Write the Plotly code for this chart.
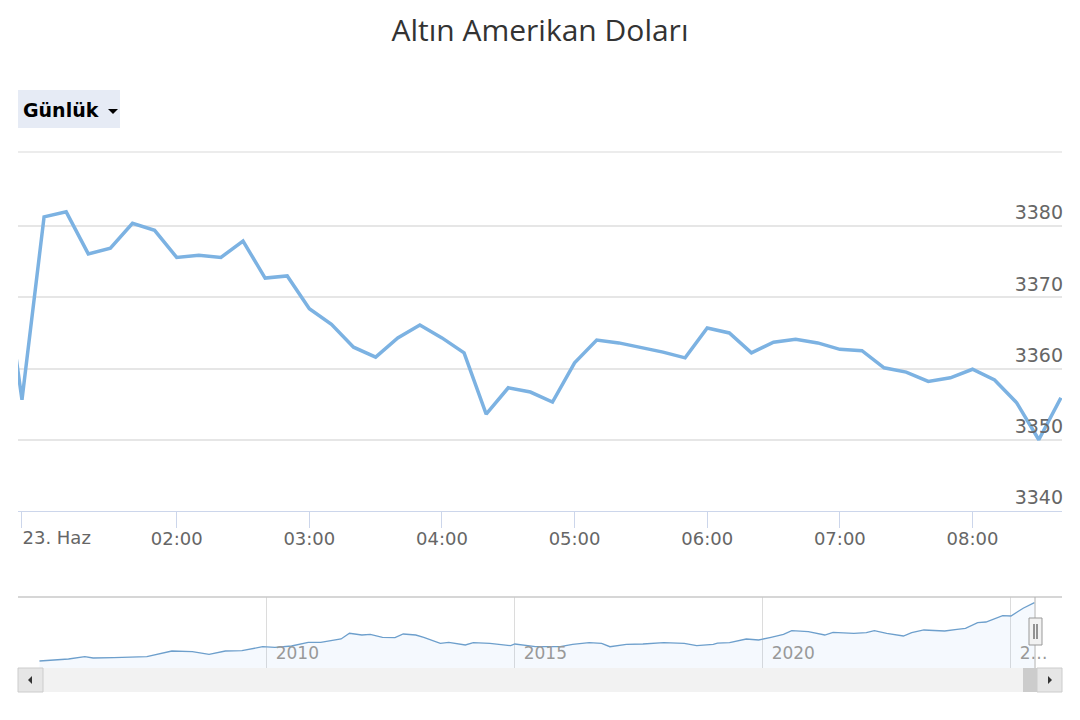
import plotly.graph_objects as go

# ---------------- data ----------------
# intraday gold price (USD), 10-minute points (ordinal index axis)
point_times = ["22.06 23:50", "23.06 00:00"] + [
    f"{h:02d}:{m:02d}" for h in range(1, 9) for m in range(0, 60, 10)
][:47]
gold_values = [3378.0, 3355.6, 3381.3, 3382.0, 3376.1, 3376.9, 3380.4, 3379.4,
               3375.6, 3375.9, 3375.6, 3377.9, 3372.7, 3373.0, 3368.4, 3366.2,
               3363.0, 3361.6, 3364.3, 3366.1, 3364.3, 3362.2, 3353.6, 3357.3,
               3356.7, 3355.3, 3360.8, 3364.0, 3363.6, 3363.0, 3362.3, 3361.5,
               3365.7, 3365.0, 3362.2, 3363.7, 3364.1, 3363.6, 3362.7, 3362.5,
               3360.1, 3359.5, 3358.2, 3358.7, 3359.9, 3358.4, 3355.2, 3350.0,
               3355.9]
point_index = list(range(len(gold_values)))

x_tick_index = [8, 14, 20, 26, 32, 38, 44]
x_tick_text = ["02:00", "03:00", "04:00", "05:00", "06:00", "07:00", "08:00"]
first_tick_index = [1]
first_tick_text = ["23. Haz"]

y_tick_vals = [3340, 3350, 3360, 3370, 3380]
y_tick_text = ["3340", "3350", "3360", "3370", "3380"]

# navigator: long-term history
nav_dates = ["2005-06", "2006-01", "2006-05", "2006-07", "2006-12", "2007-08",
             "2008-02", "2008-03", "2008-07", "2008-11", "2009-03", "2009-07",
             "2009-10", "2009-12", "2010-03", "2010-07", "2010-11", "2011-02",
             "2011-07", "2011-09", "2011-12", "2012-02", "2012-05", "2012-08",
             "2012-10", "2013-01", "2013-03", "2013-07", "2013-09", "2014-01",
             "2014-03", "2014-07", "2014-12", "2015-01", "2015-06", "2015-12",
             "2016-03", "2016-07", "2016-10", "2016-12", "2017-04", "2017-08",
             "2018-01", "2018-06", "2018-09", "2019-01", "2019-02", "2019-05",
             "2019-09", "2019-12", "2020-03", "2020-06", "2020-08", "2020-12",
             "2021-04", "2021-06", "2021-11", "2022-02", "2022-04", "2022-07",
             "2022-11", "2023-01", "2023-04", "2023-09", "2023-12", "2024-02",
             "2024-05", "2024-07", "2024-11", "2025-01", "2025-04", "2025-06-23"]
nav_values = [430, 530, 646, 581, 596, 646,
              931, 931, 896, 766, 931, 946,
              1066, 1146, 1116, 1182, 1367, 1367,
              1532, 1818, 1732, 1767, 1617, 1597,
              1782, 1732, 1617, 1317, 1367, 1232,
              1347, 1317, 1197, 1282, 1146, 1146,
              1267, 1347, 1317, 1146, 1267, 1282,
              1347, 1317, 1197, 1267, 1330, 1347,
              1532, 1482, 1617, 1767, 1948, 1898,
              1732, 1868, 1818, 1848, 1948, 1818,
              1682, 1848, 1983, 1933, 2018, 2068,
              2348, 2383, 2699, 2684, 3070, 3350]
nav_tick_vals = ["2010-01-01", "2015-01-01", "2020-01-01", "2025-01-01"]
nav_tick_text = ["\u00a0\u20092010", "\u00a0\u20092015", "\u00a0\u20092020", "\u00a0\u20092…"]

title_text = "Altın Amerikan Doları"
button_text = "Günlük"

# ---------------- layout helpers (reference pixel -> paper) ----------------
OFF = 8                      # page body margin
W, H = 1080 - OFF, 720 - OFF
L, R = 18, 1062              # plot edges in window pixels


def px(xp):
    return (xp - L) / (R - L)


def py(yp):
    return (H - (yp - OFF)) / H


LINE_COLOR = "#7cb2e2"
GRID = "#e6e6e6"
AXIS = "#ccd6eb"
FONT = "DejaVu Sans"

fig = go.Figure()

fig.add_trace(go.Scatter(
    x=point_index, y=gold_values, mode="lines",
    line=dict(color=LINE_COLOR, width=3.5),
    text=point_times, hovertemplate="%{text}<br>%{y:.2f}<extra></extra>",
    xaxis="x", yaxis="y", showlegend=False,
))
# invisible carrier trace for the overlay axis with the first (left-aligned) tick
fig.add_trace(go.Scatter(
    x=point_index, y=gold_values, mode="lines",
    line=dict(color="rgba(0,0,0,0)", width=0), hoverinfo="skip",
    xaxis="x3", yaxis="y", showlegend=False,
))
fig.add_trace(go.Scatter(
    x=nav_dates, y=nav_values, mode="lines",
    line=dict(color="#6d9fcc", width=1.3),
    fill="tozeroy", fillcolor="rgba(124,181,236,0.08)",
    xaxis="x2", yaxis="y2", showlegend=False, hoverinfo="skip",
))

x_range = [0.82, 48.05]

shapes = []
# top border line of main plot
shapes.append(dict(type="line", xref="paper", yref="paper", x0=0, x1=1,
                   y0=py(152), y1=py(152), line=dict(color=GRID, width=1.5)))
# navigator outline top
shapes.append(dict(type="line", xref="paper", yref="paper", x0=0, x1=1,
                   y0=py(597), y1=py(597), line=dict(color="#c8c8c8", width=1.5)))
# scrollbar track
shapes.append(dict(type="rect", xref="paper", yref="paper", x0=0, x1=1,
                   y0=py(692), y1=py(668), fillcolor="#f2f2f2",
                   line=dict(width=0), layer="above"))
# scrollbar thumb
shapes.append(dict(type="rect", xref="paper", yref="paper", x0=px(1023), x1=px(1037),
                   y0=py(692), y1=py(668), fillcolor="#cccccc",
                   line=dict(width=0), layer="above"))
# scrollbar buttons
for x0, x1 in [(18, 43), (1037, 1062)]:
    shapes.append(dict(type="rect", xref="paper", yref="paper", x0=px(x0), x1=px(x1),
                       y0=py(692), y1=py(668), fillcolor="#e6e6e6",
                       line=dict(color="#cccccc", width=1), layer="above"))
# arrows
shapes.append(dict(type="path", xref="paper", yref="paper", layer="above",
                   path=f"M {px(28)} {py(680)} L {px(32)} {py(676)} L {px(32)} {py(684)} Z",
                   fillcolor="#333333", line=dict(width=0)))
shapes.append(dict(type="path", xref="paper", yref="paper", layer="above",
                   path=f"M {px(1052)} {py(680)} L {px(1048)} {py(676)} L {px(1048)} {py(684)} Z",
                   fillcolor="#333333", line=dict(width=0)))
# navigator handle line and handle
shapes.append(dict(type="line", xref="paper", yref="paper", x0=px(1035), x1=px(1035),
                   y0=py(597), y1=py(668), line=dict(color="#b0b0b0", width=1), layer="above"))
shapes.append(dict(type="rect", xref="paper", yref="paper", x0=px(1029), x1=px(1042),
                   y0=py(645), y1=py(618), fillcolor="#f2f2f2",
                   line=dict(color="#999999", width=1), layer="above"))
for xl in (1034, 1037):
    shapes.append(dict(type="line", xref="paper", yref="paper", x0=px(xl), x1=px(xl),
                       y0=py(624), y1=py(639), line=dict(color="#333333", width=1),
                       layer="above"))
# range-selector button
shapes.append(dict(type="rect", xref="paper", yref="paper", x0=px(18), x1=px(120),
                   y0=py(128), y1=py(90), fillcolor="#e6ebf5", line=dict(width=0)))
shapes.append(dict(type="path", xref="paper", yref="paper",
                   path=f"M {px(108)} {py(109)} L {px(118)} {py(109)} L {px(113)} {py(114)} Z",
                   fillcolor="#000000", line=dict(width=0)))

annotations = [
    dict(text=f"<b>{button_text}</b>", xref="paper", yref="paper",
         x=px(21), y=py(110), xanchor="left", yanchor="middle", showarrow=False,
         font=dict(family=FONT, size=19, color="#000000")),
]

fig.update_layout(
    width=W, height=H, autosize=False,
    margin=dict(l=L - OFF, r=W - (R - OFF), t=0, b=0, autoexpand=False),
    paper_bgcolor="white", plot_bgcolor="white",
    title=dict(text=title_text, x=px(540), xref="paper", xanchor="center",
               y=1 - (30 - OFF) / H, yref="container", yanchor="middle",
               font=dict(family="Open Sans", size=30, color="#333333")),
    xaxis=dict(domain=[0, 1], anchor="y", range=x_range, tickmode="array",
               tickvals=x_tick_index, ticktext=x_tick_text, showgrid=False,
               zeroline=False, showline=True, linecolor=AXIS, linewidth=1,
               ticks="outside", ticklen=16, tickcolor=AXIS, tickwidth=1,
               ticklabelstandoff=-5,
               tickfont=dict(family=FONT, size=18, color="#666666")),
    xaxis3=dict(overlaying="x", anchor="y", range=x_range, tickmode="array",
                tickvals=first_tick_index, ticktext=first_tick_text,
                ticklabelposition="outside right", showgrid=False, zeroline=False,
                showline=False, ticks="outside", ticklen=16, tickcolor=AXIS,
                tickwidth=1, side="bottom", ticklabelstandoff=10,
                tickfont=dict(family=FONT, size=18, color="#666666")),
    yaxis=dict(domain=[py(511), py(152)], anchor="x", range=[3340, 3390.4],
               side="right", tickmode="array", tickvals=y_tick_vals,
               ticktext=y_tick_text, ticklabelposition="inside top",
               ticklabelstandoff=-4,
               showgrid=True, gridcolor=GRID, gridwidth=1.5, zeroline=False,
               ticks="", showline=False,
               tickfont=dict(family=FONT, size=19, color="#666666")),
    xaxis2=dict(domain=[0, 1], anchor="y2", type="date",
                range=["2004-12-25", "2026-01-12"], tickmode="array",
                tickvals=nav_tick_vals, ticktext=nav_tick_text,
                ticklabelposition="inside right", showgrid=True, gridcolor="#dcdcdc",
                zeroline=False, showline=False, ticks="",
                tickfont=dict(family=FONT, size=17, color="#999999")),
    yaxis2=dict(domain=[py(668), py(597)], anchor="x2", range=[80, 3635],
                showgrid=False, zeroline=False, showticklabels=False, ticks="",
                showline=False, fixedrange=True),
    shapes=shapes,
    annotations=annotations,
    showlegend=False,
)

fig.write_html("out.html")
